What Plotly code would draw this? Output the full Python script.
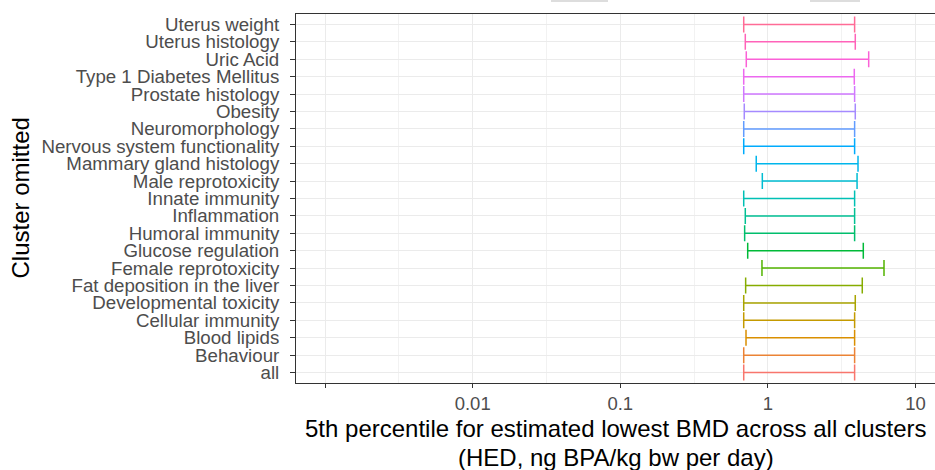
import math
import plotly.graph_objects as go

# ---- data (bottom to top) ----
clusters = ["all", "Behaviour", "Blood lipids", "Cellular immunity", "Developmental toxicity",
            "Fat deposition in the liver", "Female reprotoxicity", "Glucose regulation",
            "Humoral immunity", "Inflammation", "Innate immunity", "Male reprotoxicity",
            "Mammary gland histology", "Nervous system functionality", "Neuromorphology",
            "Obesity", "Prostate histology", "Type 1 Diabetes Mellitus", "Uric Acid",
            "Uterus histology", "Uterus weight"]
lower = [0.686, 0.686, 0.711, 0.686, 0.686, 0.707, 0.912, 0.730, 0.696, 0.703, 0.686,
         0.917, 0.834, 0.686, 0.686, 0.692, 0.686, 0.686, 0.714, 0.703, 0.686]
upper = [3.87, 3.87, 3.87, 3.87, 3.91, 4.36, 6.12, 4.43, 3.87, 3.87, 3.87,
         4.02, 4.08, 3.87, 3.87, 3.91, 3.87, 3.85, 4.82, 3.91, 3.87]
x_tick_vals = [0.001, 0.01, 0.1, 1, 10]
x_tick_text = ["", "0.01", "0.1", "1", "10"]
x_minor_vals = [10 ** (k + 0.5) for k in range(-4, 2)]


def hcl_hex(h, c=100.0, l=65.0):
    hr = math.radians(h)
    u, v = c * math.cos(hr), c * math.sin(hr)
    Xn, Yn, Zn = 95.047, 100.0, 108.883
    un = 4 * Xn / (Xn + 15 * Yn + 3 * Zn)
    vn = 9 * Yn / (Xn + 15 * Yn + 3 * Zn)
    Y = Yn * ((l + 16) / 116) ** 3 if l > 8 else Yn * l / 903.3
    up = u / (13 * l) + un
    vp = v / (13 * l) + vn
    X = Y * 9 * up / (4 * vp)
    Z = Y * (12 - 3 * up - 20 * vp) / (4 * vp)
    X, Y, Z = X / 100, Y / 100, Z / 100
    r = 3.2404542 * X - 1.5371385 * Y - 0.4985314 * Z
    g = -0.9692660 * X + 1.8760108 * Y + 0.0415560 * Z
    b = 0.0556434 * X - 0.2040259 * Y + 1.0572252 * Z

    def gam(t):
        t = 12.92 * t if t <= 0.0031308 else 1.055 * t ** (1 / 2.4) - 0.055
        return max(0, min(255, round(t * 255)))
    return "#%02X%02X%02X" % (gam(r), gam(g), gam(b))


n = len(clusters)
colors = [hcl_hex(15 + 360 * i / n) for i in range(n)]

fig = go.Figure()
for i, name in enumerate(clusters):
    fig.add_trace(go.Scatter(
        x=[lower[i]], y=[name], mode="markers",
        marker=dict(size=1, opacity=0, color=colors[i]),
        error_x=dict(type="data", symmetric=False, array=[upper[i] - lower[i]],
                     arrayminus=[0], color=colors[i], thickness=1.5, width=8),
        showlegend=False, hoverinfo="skip"))

W, H = 935, 470
L, R, T, B = 296, 0, 14, 87
pw, ph = W - L - R, H - T - B
xmin = -3.197
xmax = xmin + pw / 147.6

fig.update_layout(
    width=W, height=H, margin=dict(l=L, r=R, t=T, b=B),
    paper_bgcolor="white", plot_bgcolor="white",
    font=dict(family="Liberation Sans, Arial, sans-serif"),
    xaxis=dict(type="log", range=[xmin, xmax],
               tickmode="array", tickvals=x_tick_vals, ticktext=x_tick_text,
               showgrid=True, gridcolor="#EBEBEB", gridwidth=1.1,
               minor=dict(tickmode="array", tickvals=x_minor_vals, showgrid=True,
                          gridcolor="#F2F2F2", gridwidth=0.6, ticks=""),
               ticks="outside", ticklen=4, tickwidth=1, tickcolor="#333333",
               tickfont=dict(size=18.5, color="#4D4D4D"),
               showline=True, linecolor="#333333", linewidth=1, mirror=True,
               zeroline=False),
    yaxis=dict(type="category", categoryorder="array", categoryarray=clusters,
               range=[-0.6, n - 0.4],
               tickmode="array", tickvals=clusters, ticktext=clusters,
               showgrid=True, gridcolor="#EBEBEB", gridwidth=1.1,
               ticks="outside", ticklen=5, tickwidth=1, tickcolor="#333333",
               ticklabelstandoff=7,
               tickfont=dict(size=18.7, color="#4D4D4D"),
               showline=True, linecolor="#333333", linewidth=1, mirror=False,
               zeroline=False),
)

# axis titles
fig.add_annotation(text="Cluster omitted", xref="paper", yref="paper",
                   x=(20 - L) / pw, y=0.5, xanchor="center", yanchor="middle",
                   textangle=-90, showarrow=False,
                   font=dict(size=24, color="black"))
fig.add_annotation(text="5th percentile for estimated lowest BMD across all clusters",
                   xref="paper", yref="paper", x=0.5, y=-(428 - T - ph) / ph,
                   xanchor="center", yanchor="middle", showarrow=False,
                   font=dict(size=24, color="black"))
fig.add_annotation(text="(HED, ng BPA/kg bw per day)",
                   xref="paper", yref="paper", x=0.5, y=-(457 - T - ph) / ph,
                   xanchor="center", yanchor="middle", showarrow=False,
                   font=dict(size=24, color="black"))

# faint clipped boxes at the top edge
for x0, x1 in [(551, 608), (810, 860)]:
    fig.add_shape(type="rect", xref="paper", yref="paper",
                  x0=(x0 - L) / pw, x1=(x1 - L) / pw,
                  y0=1 + (T - 2) / ph, y1=1 + (T + 2) / ph,
                  fillcolor="#DDDDDD", line=dict(width=0), layer="above")

fig.write_html("out.html")
